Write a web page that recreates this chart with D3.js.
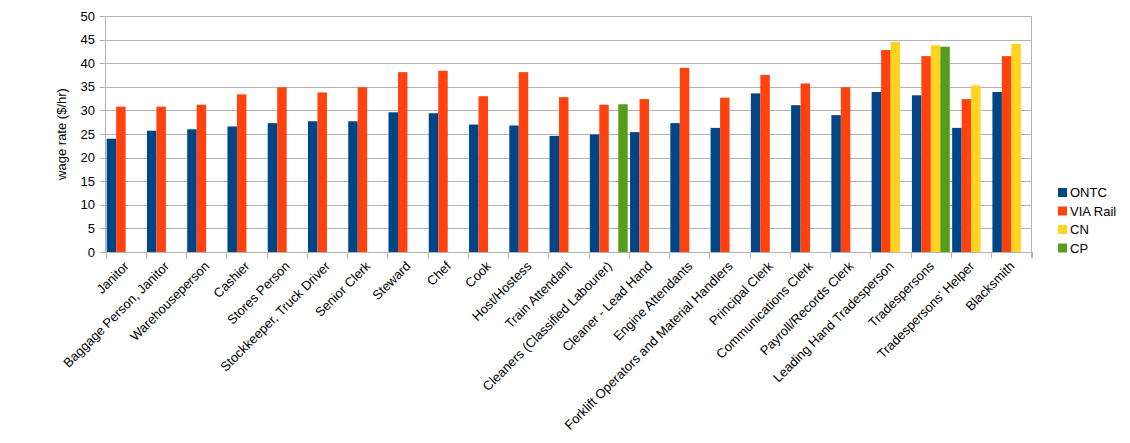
<!DOCTYPE html>
<html><head><meta charset="utf-8">
<script src="https://cdn.jsdelivr.net/npm/d3@7"></script>
<style>body{margin:0;background:#fff}svg{display:block;font-family:"Liberation Sans",Arial,sans-serif}</style>
</head><body><svg id="c" width="1130" height="443"></svg>
<script>
const categories = ["Janitor","Baggage Person, Janitor","Warehouseperson","Cashier","Stores Person","Stockkeeper, Truck Driver","Senior Clerk","Steward","Chef","Cook","Host/Hostess","Train Attendant","Cleaners (Classified Labourer)","Cleaner - Lead Hand","Engine Attendants","Forklift Operators and Material Handlers","Principal Clerk","Communications Clerk","Payroll/Records Clerk","Leading Hand Tradesperson","Tradespersons","Tradespersons' Helper","Blacksmith"];
const seriesNames = ["ONTC","VIA Rail","CN","CP"];
const ontc = [24.0,25.7,26.0,26.6,27.3,27.7,27.7,29.6,29.4,27.0,26.8,24.6,24.9,25.4,27.3,26.3,33.6,31.1,29.0,33.9,33.2,26.3,33.9];
const via  = [30.8,30.8,31.2,33.4,34.9,33.8,34.9,38.1,38.4,33.0,38.1,32.8,31.2,32.4,39.0,32.7,37.5,35.7,34.9,42.8,41.5,32.4,41.5];
const cn   = [null,null,null,null,null,null,null,null,null,null,null,null,null,null,null,null,null,null,null,44.5,43.8,35.3,44.1];
const cp   = [null,null,null,null,null,null,null,null,null,null,null,null,31.3,null,null,null,null,null,null,null,43.5,null,null];
const yTicks = [0,5,10,15,20,25,30,35,40,45,50];
const colors = ["#004586","#ff420e","#ffd320","#579d1c"];
const yTitle = "wage rate ($/hr)";

const series = [ontc, via, cn, cp];
const svg = d3.select("#c");
const L = 105.5, R = 1031.5, T = 16, B = 252;
const x = d3.scaleBand().domain(categories).range([L, R]).paddingInner(0).paddingOuter(0);
const x1 = d3.scaleBand().domain(seriesNames).range([0, x.bandwidth()]).paddingOuter(0.125).paddingInner(0);
const y = d3.scaleLinear().domain([0, 50]).range([B, T]);

// gridlines
svg.append("g").selectAll("line").data(yTicks).join("line")
  .attr("x1", L - 6).attr("x2", R).attr("y1", d => Math.round(y(d)) + 0.5).attr("y2", d => Math.round(y(d)) + 0.5)
  .attr("stroke", "#b3b3b3").attr("stroke-width", 1);

// bars
const g = svg.append("g");
series.forEach((vals, si) => {
  g.selectAll(null).data(categories.map((c, i) => ({c, v: vals[i]})).filter(d => d.v != null)).join("rect")
    .attr("x", d => x(d.c) + x1(seriesNames[si]))
    .attr("width", x1.bandwidth())
    .attr("y", d => y(d.v))
    .attr("height", d => B - y(d.v))
    .attr("fill", colors[si]);
});

// axes lines
svg.append("line").attr("x1", L).attr("x2", L).attr("y1", T).attr("y2", B).attr("stroke", "#b3b3b3");
svg.append("line").attr("x1", R).attr("x2", R).attr("y1", T).attr("y2", B + 6).attr("stroke", "#b3b3b3");
const bounds = categories.map(c => x(c)).concat([R]);
svg.append("g").selectAll("line").data(bounds).join("line")
  .attr("x1", d => Math.round(d) + 0.5).attr("x2", d => Math.round(d) + 0.5).attr("y1", B).attr("y2", B + 6)
  .attr("stroke", "#b3b3b3");

// y labels
svg.append("g").selectAll("text").data(yTicks).join("text")
  .attr("x", 95).attr("y", d => y(d)).attr("dy", "0.35em").attr("text-anchor", "end")
  .attr("font-size", 13).attr("fill", "#000").text(d => d);

svg.append("text").attr("transform", `translate(66,${(T + B) / 2}) rotate(-90)`)
  .attr("text-anchor", "middle").attr("font-size", 13).text(yTitle);

// x labels
svg.append("g").selectAll("text").data(categories).join("text")
  .attr("transform", d => `translate(${x(d) + x.bandwidth() / 2 + 4},${B + 15}) rotate(-45)`)
  .attr("text-anchor", "end").attr("font-size", 13).text(d => d);

// legend
const lg = svg.append("g");
seriesNames.forEach((s, i) => {
  const yy = 192.5 + i * 18.5;
  lg.append("rect").attr("x", 1058).attr("y", yy - 4.5).attr("width", 9).attr("height", 9).attr("fill", colors[i]);
  lg.append("text").attr("x", 1070).attr("y", yy).attr("dy", "0.35em").attr("font-size", 13).text(s);
});
</script></body></html>
